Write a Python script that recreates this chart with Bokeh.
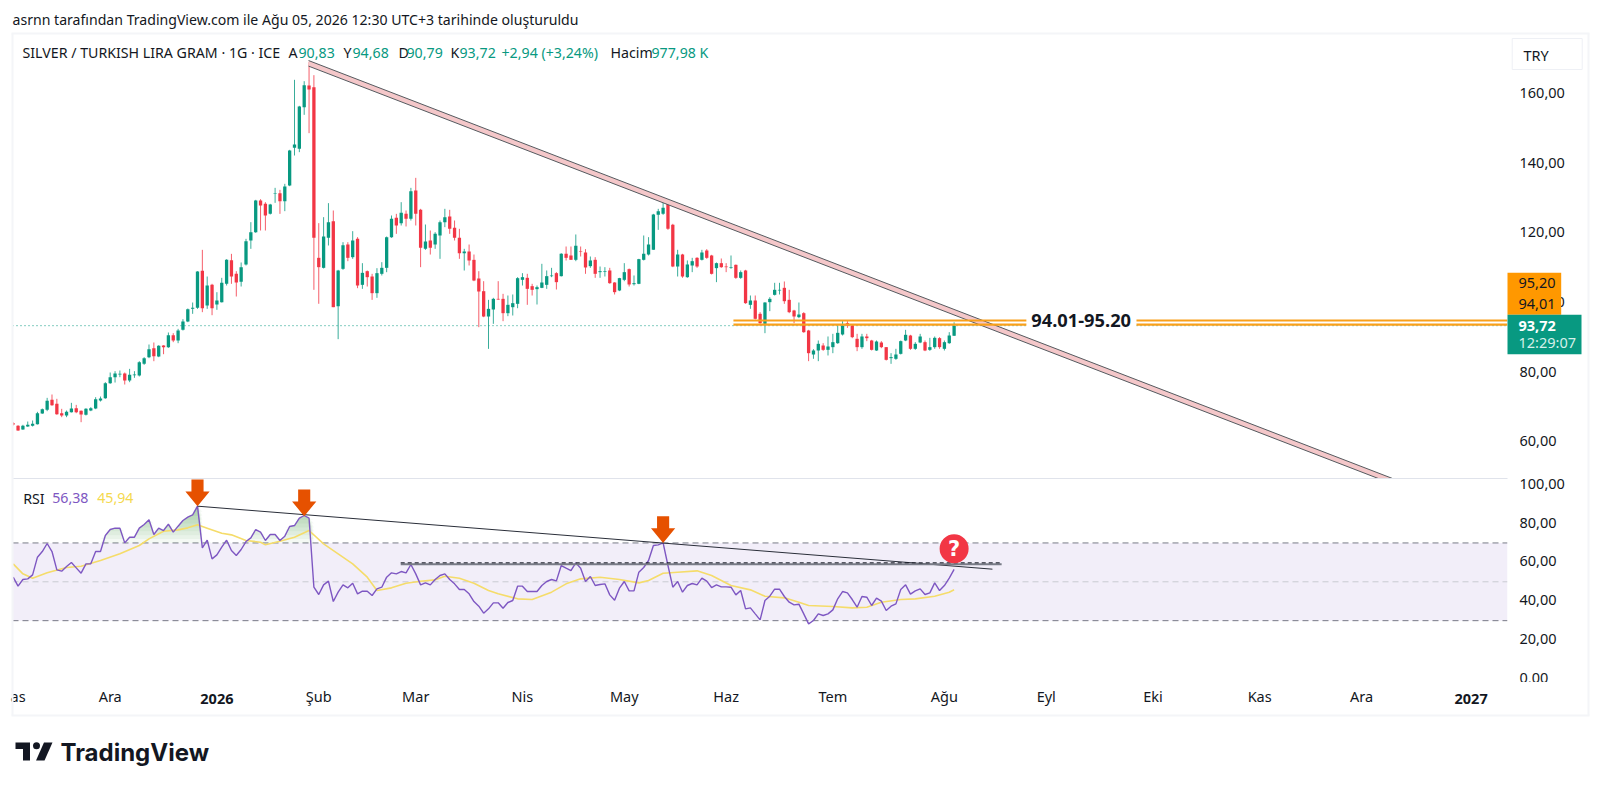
from bokeh.plotting import figure
from bokeh.layouts import column
from bokeh.models import Range1d, FixedTicker, BoxAnnotation, Span, ColumnDataSource
from bokeh.core.properties import value
from bokeh.embed import file_html
from bokeh.resources import INLINE

# ---------------- data ----------------
opens = [65.74,64.98,63.93,64.79,64.98,65.46,68.52,69.57,72.44,71.29,68.61,67.94,68.9,70.05,69.28,68.14,69.38,69.95,72.25,72.92,77.22,78.94,79.71,80.0,77.99,79.52,79.42,82.77,84.68,87.27,84.87,88.03,87.55,91.0,89.47,92.53,94.92,98.55,98.84,109.46,99.51,105.44,99.8,100.46,105.73,112.52,108.6,106.3,111.27,118.16,120.55,129.64,128.68,125.81,131.55,131.74,129.45,133.95,144.75,144.47,156.42,162.65,162.16,113.19,110.32,118.93,123.71,99.3,110.03,117.01,113.38,118.64,105.44,109.36,107.83,103.05,108.6,110.32,119.12,124.67,123.14,125.81,124.38,132.51,126.96,115.77,118.16,117.01,119.6,123.42,125.05,121.8,118.93,114.53,115.0,112.61,107.26,103.62,96.35,98.36,101.42,101.42,97.31,99.03,99.99,
106.88,107.45,105.06,104.2,104.58,105.44,107.93,108.79,107.93,114.34,113.86,112.62,115.1,114.72,110.8,112.62,109.08,109.17,109.56,106.11,103.82,106.88,109.94,105.63,105.73,112.62,114.15,115.49,125.53,125.81,128.88,122.66,110.7,114.15,107.64,110.99,113.19,112.62,115.29,113.86,110.23,111.66,110.7,110.32,111.18,107.45,109.56,99.7,100.95,97.12,94.25,100.47,102.57,103.82,104.58,101.14,98.08,96.17,97.31,92.34,85.45,86.6,88.03,86.79,87.56,88.7,91.19,94.44,93.77,89.95,87.56,90.62,89.47,86.6,88.89,87.56,84.4,84.21,85.64,89.47,90.9,87.08,88.89,88.99,86.79,87.56,90.14,87.08,88.7,90.83]
highs = [66.03,65.17,65.27,66.22,66.51,69.0,69.95,73.01,73.97,72.73,69.86,69.38,71.58,71.0,69.38,70.05,70.34,73.2,73.39,77.51,80.28,80.67,80.86,80.28,81.33,80.67,83.53,84.68,88.32,88.89,88.12,88.12,91.76,91.57,92.81,95.59,98.65,100.37,109.36,115.48,107.83,105.73,103.33,107.45,112.8,114.33,109.36,111.85,118.64,123.42,129.83,130.02,129.16,128.68,133.27,132.7,134.42,144.18,164.27,156.8,163.88,169.34,165.6,123.14,124.86,128.88,126.77,109.74,117.68,117.68,120.84,119.12,111.66,109.55,108.6,110.22,111.94,119.31,125.34,125.81,129.16,126.77,133.27,136.14,127.25,122.75,121.03,120.55,123.9,127.25,126.96,123.9,121.51,115.77,117.01,114.14,109.36,106.49,101.13,101.71,106.49,102.86,102.38,102.67,107.64,
108.79,108.6,105.73,105.25,111.47,109.56,110.32,109.08,114.53,116.44,116.44,119.89,116.44,115.68,113.57,113.38,110.7,110.51,110.32,106.21,107.45,111.66,110.13,108.12,112.9,119.6,119.12,125.81,127.25,130.41,129.83,122.95,115.49,114.34,112.43,113.19,113.38,115.49,115.68,114.05,111.85,113.0,111.66,113.86,111.28,109.56,109.75,102.38,102.38,97.6,100.47,101.9,106.02,106.02,106.4,104.01,98.27,100.37,97.6,92.53,86.98,89.47,88.7,90.62,91.38,93.77,95.02,95.02,93.96,91.38,91.38,91.38,89.66,89.47,89.28,87.56,85.83,87.08,89.47,92.53,91.1,88.99,91.38,89.47,90.23,90.62,90.43,89.47,91.86,94.68]
lows = [65.07,63.54,63.83,64.69,64.79,65.36,68.42,69.19,70.72,68.14,67.47,67.47,68.8,68.61,66.03,67.94,69.19,69.76,71.96,72.73,77.03,77.41,78.94,76.84,77.51,78.75,79.14,82.48,84.4,83.53,84.68,85.54,87.36,88.99,88.7,92.33,94.73,97.12,98.55,97.6,98.55,96.73,98.27,100.37,105.25,105.73,102.09,104.96,110.99,115.77,120.36,121.03,121.03,125.62,128.97,125.81,126.58,133.75,142.55,143.51,154.22,148.96,104.0,100.0,110.13,116.73,99.03,89.85,109.74,112.23,112.9,104.48,104.29,104.96,101.13,101.71,108.12,109.07,118.93,120.07,122.47,122.18,123.9,122.47,110.51,115.48,114.14,115.77,112.9,121.99,120.07,118.16,112.9,109.55,110.99,106.49,93.29,96.16,87.07,94.25,101.13,95.01,96.45,96.64,98.74,
105.25,99.7,102.38,99.8,104.49,104.29,107.64,104.1,107.83,112.43,112.62,112.23,113.57,108.6,110.32,107.45,107.45,107.83,105.73,102.67,103.63,106.49,104.96,105.25,105.63,112.43,113.86,115.49,121.22,125.53,121.22,110.51,107.83,107.45,107.45,109.08,110.32,112.43,112.9,108.41,106.21,110.32,109.08,110.03,107.16,107.16,99.99,98.56,95.5,94.25,91.57,97.89,102.38,102.67,99.99,97.31,94.44,95.88,91.67,83.54,84.21,83.54,86.5,85.17,85.83,88.51,90.9,93.1,90.14,86.41,87.08,89.28,86.6,86.5,87.27,83.73,82.77,83.92,85.45,89.28,86.79,86.79,88.7,86.41,86.5,87.08,87.08,86.6,88.51,90.79]
closes = [65.36,63.64,64.98,65.27,65.55,68.61,69.76,72.15,70.91,68.33,67.94,69.0,69.95,68.9,68.23,69.86,70.05,72.63,72.82,77.22,78.94,80.0,79.9,77.99,79.61,79.71,83.25,84.4,86.98,84.97,87.93,87.55,91.0,89.47,92.33,94.92,98.46,98.84,109.26,98.74,105.25,98.74,100.94,106.01,112.61,107.83,106.11,110.51,117.97,120.55,129.64,128.2,125.34,128.49,131.74,129.45,133.66,143.99,145.71,156.61,162.74,161.49,118.93,110.51,119.31,123.42,99.03,109.55,116.82,113.19,118.16,105.25,108.88,107.64,103.05,108.79,110.32,119.12,124.38,122.47,126.1,124.38,132.32,125.81,116.06,117.87,116.06,120.07,123.42,124.86,121.51,118.93,114.53,115.0,112.42,106.68,103.53,96.35,98.55,101.42,101.23,97.31,99.7,100.18,107.35,
107.64,104.29,104.01,104.77,106.11,107.93,108.12,106.21,114.34,113.19,112.62,116.63,114.91,110.42,112.43,108.6,109.36,109.36,105.92,103.34,107.36,109.08,105.54,105.92,112.81,114.34,117.0,125.62,126.58,127.54,121.51,110.7,114.15,107.83,111.28,112.23,110.7,114.72,113.19,108.6,111.66,110.51,110.51,110.51,107.45,109.08,100.18,100.95,95.69,94.44,100.37,101.42,104.01,104.01,100.75,97.6,96.36,96.93,91.86,85.83,86.6,88.51,86.79,87.75,88.99,91.67,93.77,93.77,90.43,87.56,90.62,90.14,86.79,89.18,87.56,83.92,84.69,85.45,89.28,91.1,87.08,88.51,90.62,86.6,87.56,90.23,87.56,88.99,90.9,93.72]

rsi = [52.38,47.75,51.18,51.52,53.58,62.67,65.59,69.71,65.59,56.15,55.47,57.87,59.93,57.18,54.44,59.24,59.24,65.59,65.59,73.82,76.91,77.6,77.6,70.05,72.96,72.96,77.6,79.48,81.89,74.34,77.6,76.4,79.66,75.54,78.63,81.54,83.26,84.46,88.92,67.47,71.42,61.81,63.87,67.82,71.42,66.1,63.53,66.62,70.73,72.62,76.91,75.54,71.25,74.34,74.34,71.25,73.48,78.45,78.97,82.74,84.12,82.74,47.23,43.46,48.43,50.32,39.85,44.66,48.43,46.89,49.29,43.8,45.17,45.17,42.94,46.37,47.23,52.38,54.61,54.09,55.29,54.61,58.9,54.09,48.43,49.46,48.43,51.18,53.24,54.09,51.18,48.95,46.03,46.03,43.8,39.85,37.45,33.85,36.08,39.17,39.17,
36.42,39.34,40.37,47.75,47.75,45.0,45.0,45.0,48.09,50.15,51.18,50.49,58.38,57.01,55.81,59.75,57.01,50.15,52.72,48.09,48.6,48.95,43.28,40.54,46.72,50.15,45.34,45.34,54.95,57.35,60.96,68.68,69.02,70.05,58.38,47.23,50.15,44.66,48.09,49.12,48.43,51.86,50.32,47.06,48.43,47.4,47.4,47.23,43.28,45.52,36.08,36.59,33.5,30.42,40.37,42.6,46.2,46.2,42.43,39.51,38.14,38.48,33.5,28.36,30.07,33.5,32.65,33.5,35.56,41.23,45.0,44.32,40.88,36.94,42.43,42.08,37.8,41.57,40.03,35.22,37.45,38.65,46.03,48.43,43.63,45.34,46.37,43.46,44.32,49.46,45.52,48.09,51.86,56.38]

ma_bars = [0,2,4,7,11,14,18,22,26,28,31,34,36,38,40,43,45,48,51,52,55,58,61,64,67,70,73,75,78,81,84,87,89,92,95,98,100,104,107,111,114,117,121,125,129,131,134,137,141,144,148,152,155,159,162,164,169,173,176,179,183,186,190,193,194]
ma_vals = [59.24,54.09,51.86,54.61,57.35,58.04,60.96,64.39,68.68,72.11,76.05,76.74,77.77,79.31,77.6,75.02,74.17,71.25,70.39,69.02,70.91,72.96,76.4,69.53,64.39,59.24,52.38,45.52,46.89,49.29,50.32,51.0,52.89,51.86,49.29,45.52,43.8,41.23,40.88,44.66,48.95,51.52,52.38,51.18,49.46,50.66,54.44,54.95,55.64,53.24,48.09,45.86,42.6,41.74,39.51,37.8,37.28,36.59,36.94,39.51,40.88,41.23,42.6,44.66,45.94]

month_ticks = [1,20,63,83,105,126,147,169,192,213,235,257,278]
month_labels = ["as","Ara","Şub","Mar","Nis","May","Haz","Tem","Ağu","Eyl","Eki","Kas","Ara"]
year_ticks = [42,300.6]
year_labels = ["2026","2027"]

price_ticks = [60,80,100,120,140,160]
rsi_ticks = [0,20,40,60,80,100]

trend_bars = [60.9,284.4]
trend_upper = [169.8,49.87]
trend_lower = [168.2,48.3]
zone_levels = [95.20,94.01]
last_price = 93.72

rsi_trend_bars = [38,201.9]
rsi_trend_vals = [88.92,56.5]
rsi_level_bars = [79.9,203.8]
rsi_level_val = 59.07
arrow_bars = [38,60,134]
arrow_vals = [88.92,83.8,70.0]

# ---------------- page geometry ----------------
W = 1592
FONT = "Noto Sans"
GREEN, RED = "#089981", "#f23645"
INK = "#131722"
PURPLE, YELLOW = "#7e57c2", "#f5dc6a"
FRAME = "#f4f5f8"
idx = list(range(len(closes)))
X0, X1 = -0.144, 308.1
x_range = Range1d(X0, X1)

def bar_to_px(b):
    return 12 + (b - X0) * 1495 / (X1 - X0)

def base(h, yr, top=0, loc_x=None):
    p = figure(width=W, height=h, x_range=x_range, y_range=yr, output_backend="svg",
               toolbar_location=None, y_axis_location="right", x_axis_location=loc_x,
               min_border_left=12, min_border_right=85, min_border_top=top, min_border_bottom=0,
               background_fill_color="white", border_fill_color="white")
    p.outline_line_color = None
    p.xgrid.visible = False
    p.ygrid.visible = False
    return p

def style_y(p, ticks, nudge):
    # nudge lifts the label text to the height it has in the reference
    ax = p.yaxis[0]
    ax.ticker = FixedTicker(ticks=[t + nudge for t in ticks])
    ax.major_label_overrides = {t + nudge: f"{t},00" for t in ticks}
    ax.axis_line_color = None
    ax.major_tick_line_color = None
    ax.minor_tick_line_color = None
    ax.major_label_standoff = 6
    ax.major_label_text_font = FONT
    ax.major_label_text_font_size = "14.5px"
    ax.major_label_text_color = INK

# ---------------- price pane ----------------
p = base(478, Range1d(49.87, 177.56), top=33)
p.xaxis.visible = False
style_y(p, price_ticks, 0.5)

p.add_layout(Span(location=last_price, dimension="width", line_color=GREEN, line_dash="1 3", line_width=1, level="underlay"))

colors = [GREEN if c >= o else RED for o, c in zip(opens, closes)]
src = ColumnDataSource(dict(x=idx, o=opens, h=highs, l=lows, c=closes, color=colors))
p.segment("x", "h", "x", "l", source=src, line_color="color", line_width=1, line_alpha=0.8)
p.vbar(x="x", top="o", bottom="c", width=0.68, source=src, fill_color="color", line_color=None)

p.varea(trend_bars, trend_lower, trend_upper, fill_color="#f4c7c9")
p.line(trend_bars, trend_upper, line_color="#555a5f", line_width=1)
p.line(trend_bars, trend_lower, line_color="#555a5f", line_width=1)

seg_start, seg_gap0, seg_gap1, seg_end = 148.5, 208.9, 231.6, 308.1
p.quad(left=[seg_gap0], right=[seg_gap1], top=[96.5], bottom=[92.7], fill_color="white", line_color=None)
for lv in zone_levels:
    p.segment([seg_start, seg_gap1], [lv, lv], [seg_gap0, seg_end], [lv, lv], line_color="#f9a01b", line_width=2.2)
p.text([220.2], [95.3], text=["94.01-95.20"], text_font=value(FONT), text_font_size="18.3px",
       text_font_style="bold", text_color=INK, text_align="center", text_baseline="middle")

# ---------------- RSI pane ----------------
q = base(204, Range1d(-1.83, 103.17))
q.xaxis.visible = False
style_y(q, rsi_ticks, 0.5)
q.add_layout(BoxAnnotation(top=70, bottom=30, fill_color=PURPLE, fill_alpha=0.1, line_color=None, level="underlay", editable=False))
for lv, c in [(70, "#787b86"), (30, "#787b86"), (50, "#c9cbd2")]:
    q.add_layout(Span(location=lv, dimension="width", line_color=c, line_dash="6 4", line_width=1, level="underlay"))

for lv in range(70, 90, 2):
    q.varea(idx, [lv] * len(rsi), [max(v, lv) for v in rsi], fill_color="#43a047", fill_alpha=0.06)
q.line(ma_bars, ma_vals, line_color=YELLOW, line_width=1.6)
q.line(idx, rsi, line_color=PURPLE, line_width=1.4)

q.line(rsi_trend_bars, rsi_trend_vals, line_color="#2a2e39", line_width=1)
q.line(rsi_level_bars, [rsi_level_val] * 2, line_color="#787b86", line_width=2)
q.line(rsi_level_bars, [rsi_level_val + 0.7] * 2, line_color="#131722", line_width=1, line_dash="4 3")

for bx, bv in zip(arrow_bars, arrow_vals):
    xs = [bx, bx - 2.5, bx - 1.25, bx - 1.25, bx + 1.25, bx + 1.25, bx + 2.5]
    ys = [bv, bv + 7.5, bv + 7.5, bv + 13.7, bv + 13.7, bv + 7.5, bv + 7.5]
    q.patch(xs, ys, fill_color="#e65100", line_color=None)

q.scatter([194], [67], size=29, marker="circle", fill_color="#f23645", line_color=None)
q.text([194], [67], text=["?"], text_font=value("DejaVu Sans"), text_font_size="21px", text_font_style="bold",
       text_color="white", text_align="center", text_baseline="middle")

# ---------------- time axis ----------------
t = base(99, Range1d(0, 1), top=33, loc_x="above")
t.yaxis.visible = False
ax = t.xaxis[0]
ax.ticker = FixedTicker(ticks=month_ticks)
ax.major_label_overrides = dict(zip(month_ticks, month_labels))
ax.axis_line_color = None
ax.major_tick_line_color = None
ax.minor_tick_line_color = None
ax.major_label_standoff = 7
ax.major_label_text_font = FONT
ax.major_label_text_font_size = "14.5px"
ax.major_label_text_color = INK
t.line([0, 1], [0, 0], line_alpha=0)

# ---------------- overlay: header, frame, scale widgets, footer (page pixels) ----------------
o = figure(frame_width=W, frame_height=781, x_range=Range1d(0, W), y_range=Range1d(781, 0), output_backend="svg",
           toolbar_location=None, min_border=0, background_fill_alpha=0, border_fill_alpha=0,
           x_axis_location=None, y_axis_location=None)
o.grid.visible = False
o.outline_line_color = None

def rect(l, r, tp, b, color, line=None):
    o.quad(left=[l], right=[r], top=[tp], bottom=[b], fill_color=color, line_color=line)

def label(x, y, s, color=INK, size=14.2, style="normal", align="left", font=FONT):
    o.text([x], [y], text=[s], text_color=color, text_font=value(font), text_font_size=f"{size}px",
           text_font_style=style, text_align=align, text_baseline="middle")

rect(11, 13, 33, 715, FRAME)
rect(11, 1589, 32, 34, FRAME)
rect(1587, 1589, 33, 715, FRAME)
rect(11, 1589, 714, 716, FRAME)
rect(13, 1507, 477.5, 478.5, "#e0e3eb")

label(12, 19, "asrnn tarafından TradingView.com ile Ağu 05, 2026 12:30 UTC+3 tarihinde oluşturuldu", size=14.1)
label(22, 52, "SILVER / TURKISH LIRA GRAM · 1G · ICE")
for xl, xv, lab, val in [(288, 298, "A", "90,83"), (343, 352, "Y", "94,68"), (398, 406, "D", "90,79"), (450, 459, "K", "93,72")]:
    label(xl, 52, lab)
    label(xv, 52, val, color=GREEN)
label(501, 52, "+2,94 (+3,24%)", color=GREEN)
label(610, 52, "Hacim")
label(651, 52, "977,98 K", color=GREEN)

rect(1511.7, 1581.7, 38, 69, "white", line="#eef0f5")
label(1523, 54, "TRY", size=14.5)
rect(1507, 1560.7, 272.3, 314.3, "#ff9800")
label(1518, 282.2, "95,20", size=14.5)
label(1518, 303.3, "94,01", size=14.5)
rect(1507, 1581, 314.3, 353.7, GREEN)
label(1518, 325, "93,72", color="white", style="bold", size=14.5)
label(1518, 341.7, "12:29:07", color="#d6f0ea", size=14.5)

label(22.7, 497.7, "RSI")
label(51.7, 497.7, "56,38", color=PURPLE)
label(96.7, 497.7, "45,94", color="#f5d94e")

for yb, yl in zip(year_ticks, year_labels):
    label(bar_to_px(yb), 698, yl, style="bold", align="center", size=14.5)

o.patch([15, 29.5, 29.5, 22.5, 22.5, 15], [742, 742, 760, 760, 748.5, 748.5], fill_color=INK, line_color=None)
o.patch([52, 44, 35.5, 43.5], [742, 760, 760, 742], fill_color=INK, line_color=None)
o.scatter([36], [745.3], size=7, marker="circle", fill_color=INK, line_color=None)
label(60, 752, "TradingView", size=24, style="bold", font="Inter")

overlay = column(o, spacing=0, styles={"position": "absolute", "left": "0px", "top": "0px"})
page = column(column(p, q, t, spacing=0), overlay, spacing=0)
open("out.html", "w").write(file_html(page, INLINE))
